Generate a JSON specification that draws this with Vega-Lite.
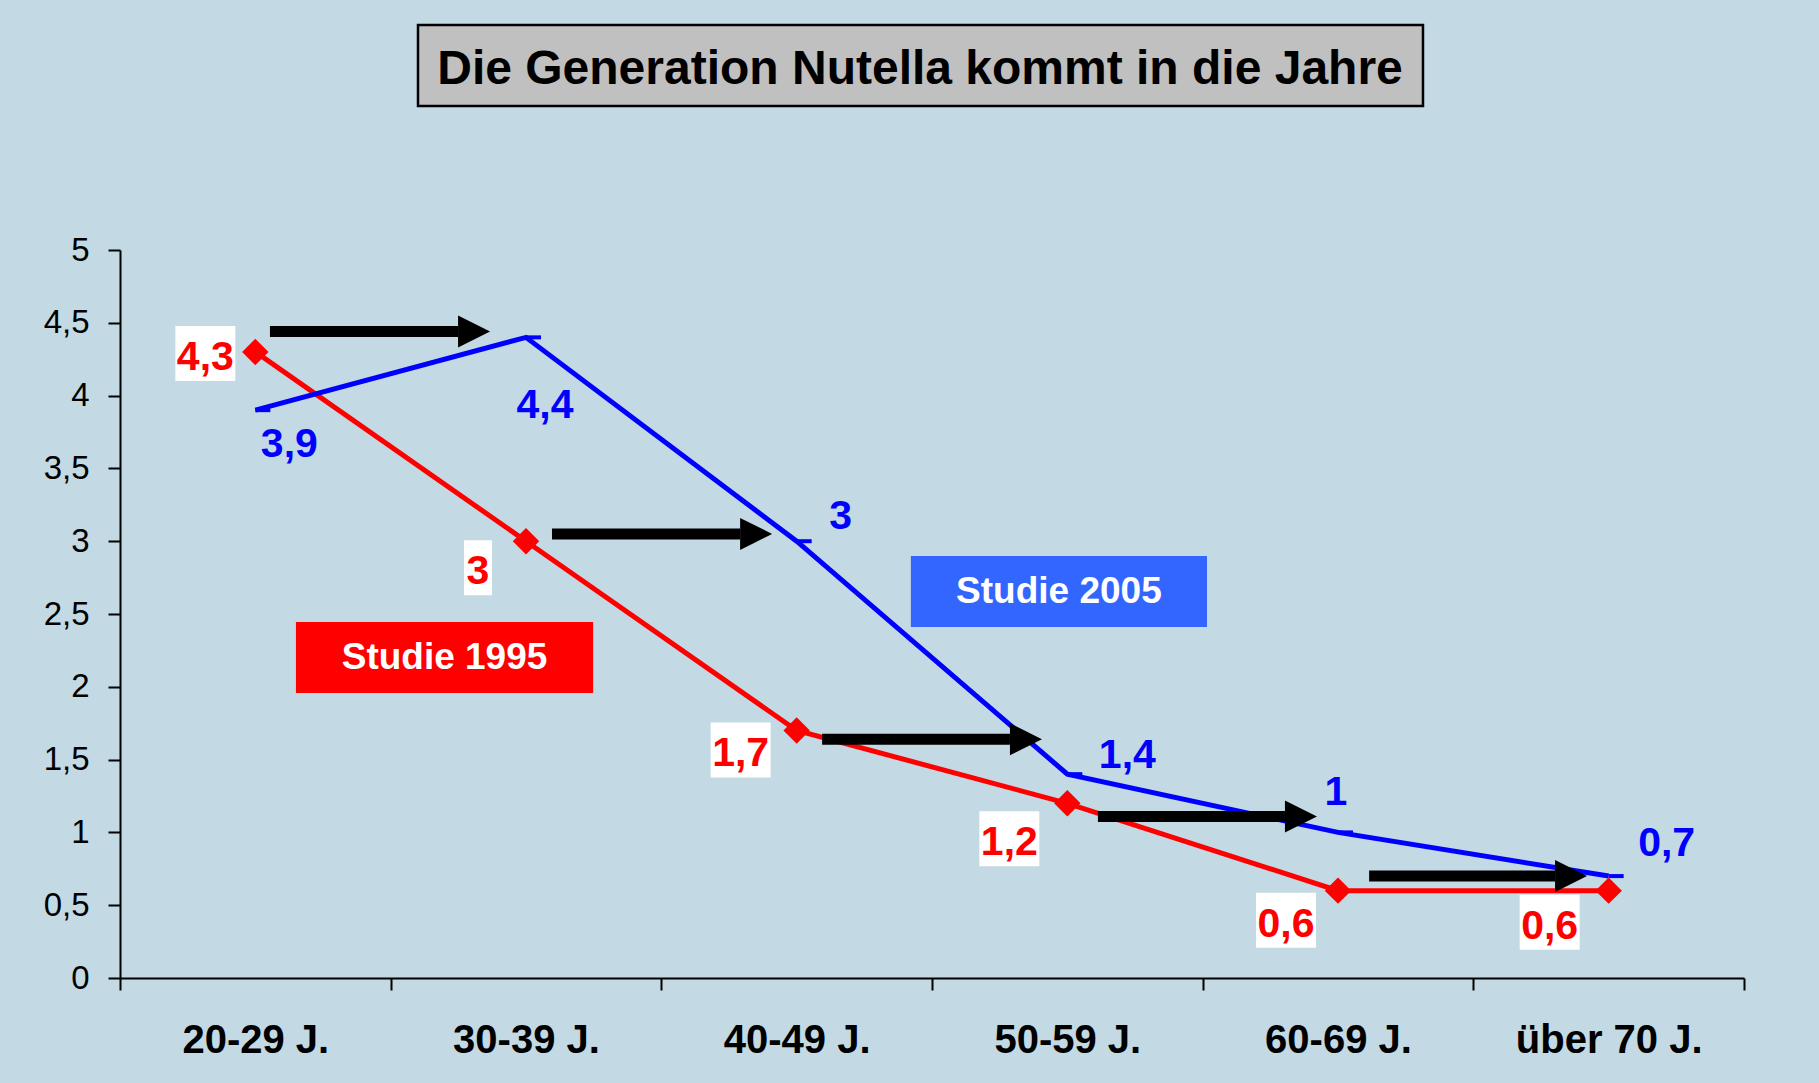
{
  "$schema": "https://vega.github.io/schema/vega-lite/v6.json",
  "width": 1624,
  "height": 728,
  "autosize": {"type": "none"},
  "padding": {"left": 120, "top": 250, "right": 75, "bottom": 105},
  "background": "#c3d9e4",
  "title": {
    "text": "Die Generation Nutella kommt in die Jahre",
    "font": "Liberation Sans",
    "fontSize": 48,
    "fontWeight": "bold",
    "color": "#000000",
    "anchor": "middle",
    "baseline": "alphabetic",
    "dx": -12,
    "offset": -108
  },
  "config": {
    "view": {"stroke": null},
    "font": "Liberation Sans",
    "locale": {"number": {"decimal": ",", "thousands": ".", "grouping": [3], "currency": ["", " €"]}}
  },
  "datasets": {
    "survey": [
      {"age": "20-29 J.", "study": "Studie 1995", "value": 4.3},
      {"age": "30-39 J.", "study": "Studie 1995", "value": 3},
      {"age": "40-49 J.", "study": "Studie 1995", "value": 1.7},
      {"age": "50-59 J.", "study": "Studie 1995", "value": 1.2},
      {"age": "60-69 J.", "study": "Studie 1995", "value": 0.6},
      {"age": "über 70 J.", "study": "Studie 1995", "value": 0.6},
      {"age": "20-29 J.", "study": "Studie 2005", "value": 3.9},
      {"age": "30-39 J.", "study": "Studie 2005", "value": 4.4},
      {"age": "40-49 J.", "study": "Studie 2005", "value": 3},
      {"age": "50-59 J.", "study": "Studie 2005", "value": 1.4},
      {"age": "60-69 J.", "study": "Studie 2005", "value": 1},
      {"age": "über 70 J.", "study": "Studie 2005", "value": 0.7}
    ],
    "arrows": [
      {"from": 0.554, "to": 1.249, "level": 4.44},
      {"from": 1.596, "to": 2.291, "level": 3.05},
      {"from": 2.594, "to": 3.288, "level": 1.64},
      {"from": 3.613, "to": 4.304, "level": 1.11},
      {"from": 4.615, "to": 5.302, "level": 0.70}
    ],
    "frames": [
      {"frame": "title", "left": 1.101, "right": 4.814, "bottom": 5.989, "top": 6.545},
      {"frame": "Studie 1995", "left": 0.650, "right": 1.748, "bottom": 1.957, "top": 2.445},
      {"frame": "Studie 2005", "left": 2.922, "right": 4.016, "bottom": 2.411, "top": 2.898}
    ]
  },
  "layer": [
    {
      "data": {"name": "survey"},
      "encoding": {
        "x": {
          "field": "age", "type": "nominal",
          "scale": {"type": "band", "domain": ["20-29 J.", "30-39 J.", "40-49 J.", "50-59 J.", "60-69 J.", "über 70 J."], "paddingInner": 0, "paddingOuter": 0},
          "axis": {"title": null, "tickBand": "extent", "labelAngle": 0, "labelFont": "Liberation Sans", "labelFontSize": 40, "labelFontWeight": "bold", "labelColor": "#000000", "labelPadding": 62, "labelBaseline": "alphabetic", "labelLimit": 400, "tickSize": 12, "tickWidth": 2, "tickColor": "#000000", "domainColor": "#000000", "domainWidth": 2, "grid": false}
        },
        "y": {
          "field": "value", "type": "quantitative",
          "scale": {"domain": [0, 5], "nice": false},
          "axis": {"title": null, "values": [0, 0.5, 1, 1.5, 2, 2.5, 3, 3.5, 4, 4.5, 5], "format": ".1~f", "grid": false, "labelFont": "Liberation Sans", "labelFontSize": 33, "labelColor": "#000000", "labelPadding": 19, "tickSize": 12, "tickWidth": 2, "tickColor": "#000000", "domainColor": "#000000", "domainWidth": 2}
        }
      },
      "layer": [
        {
          "mark": {"type": "line", "strokeWidth": 5},
          "encoding": {"color": {"field": "study", "type": "nominal", "scale": {"domain": ["Studie 1995", "Studie 2005"], "range": ["#ff0000", "#0000ff"]}, "legend": null}}
        },
        {
          "transform": [{"filter": "datum.study === 'Studie 1995'"}],
          "mark": {"type": "point", "shape": "diamond", "size": 700, "filled": true, "color": "#ff0000", "opacity": 1}
        },
        {
          "transform": [{"filter": "datum.study === 'Studie 2005'"}],
          "mark": {"type": "point", "shape": "M0,0L1,0", "size": 900, "filled": false, "stroke": "#0000ff", "strokeWidth": 4, "opacity": 1}
        },
        {"transform": [{"filter": "datum.study === 'Studie 1995' && datum.age === '20-29 J.'"}], "mark": {"type": "point", "shape": "M-80,-26H-20V29H-80Z", "size": 4, "filled": true, "fill": "#ffffff", "strokeWidth": 0, "opacity": 1}},
        {"transform": [{"filter": "datum.study === 'Studie 1995' && datum.age === '30-39 J.'"}], "mark": {"type": "point", "shape": "M-62,-1H-34V54H-62Z", "size": 4, "filled": true, "fill": "#ffffff", "strokeWidth": 0, "opacity": 1}},
        {"transform": [{"filter": "datum.study === 'Studie 1995' && datum.age === '40-49 J.'"}], "mark": {"type": "point", "shape": "M-86,-8H-26V47H-86Z", "size": 4, "filled": true, "fill": "#ffffff", "strokeWidth": 0, "opacity": 1}},
        {"transform": [{"filter": "datum.study === 'Studie 1995' && datum.age === '50-59 J.'"}], "mark": {"type": "point", "shape": "M-88,8H-28V63H-88Z", "size": 4, "filled": true, "fill": "#ffffff", "strokeWidth": 0, "opacity": 1}},
        {"transform": [{"filter": "datum.study === 'Studie 1995' && datum.age === '60-69 J.'"}], "mark": {"type": "point", "shape": "M-82,2H-22V57H-82Z", "size": 4, "filled": true, "fill": "#ffffff", "strokeWidth": 0, "opacity": 1}},
        {"transform": [{"filter": "datum.study === 'Studie 1995' && datum.age === 'über 70 J.'"}], "mark": {"type": "point", "shape": "M-89,4H-29V59H-89Z", "size": 4, "filled": true, "fill": "#ffffff", "strokeWidth": 0, "opacity": 1}},
        {"transform": [{"filter": "datum.study === 'Studie 1995' && datum.age === '20-29 J.'"}], "mark": {"type": "text", "dx": -50, "dy": 18, "fontSize": 41, "fontWeight": "bold", "color": "#ff0000", "baseline": "alphabetic", "align": "center"}, "encoding": {"text": {"field": "value", "type": "quantitative", "format": ".1~f"}}},
        {"transform": [{"filter": "datum.study === 'Studie 1995' && datum.age === '30-39 J.'"}], "mark": {"type": "text", "dx": -48, "dy": 43, "fontSize": 41, "fontWeight": "bold", "color": "#ff0000", "baseline": "alphabetic", "align": "center"}, "encoding": {"text": {"field": "value", "type": "quantitative", "format": ".1~f"}}},
        {"transform": [{"filter": "datum.study === 'Studie 1995' && datum.age === '40-49 J.'"}], "mark": {"type": "text", "dx": -56, "dy": 36, "fontSize": 41, "fontWeight": "bold", "color": "#ff0000", "baseline": "alphabetic", "align": "center"}, "encoding": {"text": {"field": "value", "type": "quantitative", "format": ".1~f"}}},
        {"transform": [{"filter": "datum.study === 'Studie 1995' && datum.age === '50-59 J.'"}], "mark": {"type": "text", "dx": -58, "dy": 52, "fontSize": 41, "fontWeight": "bold", "color": "#ff0000", "baseline": "alphabetic", "align": "center"}, "encoding": {"text": {"field": "value", "type": "quantitative", "format": ".1~f"}}},
        {"transform": [{"filter": "datum.study === 'Studie 1995' && datum.age === '60-69 J.'"}], "mark": {"type": "text", "dx": -52, "dy": 46, "fontSize": 41, "fontWeight": "bold", "color": "#ff0000", "baseline": "alphabetic", "align": "center"}, "encoding": {"text": {"field": "value", "type": "quantitative", "format": ".1~f"}}},
        {"transform": [{"filter": "datum.study === 'Studie 1995' && datum.age === 'über 70 J.'"}], "mark": {"type": "text", "dx": -59, "dy": 48, "fontSize": 41, "fontWeight": "bold", "color": "#ff0000", "baseline": "alphabetic", "align": "center"}, "encoding": {"text": {"field": "value", "type": "quantitative", "format": ".1~f"}}},
        {"transform": [{"filter": "datum.study === 'Studie 2005' && datum.age === '20-29 J.'"}], "mark": {"type": "text", "dx": 34, "dy": 47, "fontSize": 41, "fontWeight": "bold", "color": "#0000ff", "baseline": "alphabetic", "align": "center"}, "encoding": {"text": {"field": "value", "type": "quantitative", "format": ".1~f"}}},
        {"transform": [{"filter": "datum.study === 'Studie 2005' && datum.age === '30-39 J.'"}], "mark": {"type": "text", "dx": 19, "dy": 81, "fontSize": 41, "fontWeight": "bold", "color": "#0000ff", "baseline": "alphabetic", "align": "center"}, "encoding": {"text": {"field": "value", "type": "quantitative", "format": ".1~f"}}},
        {"transform": [{"filter": "datum.study === 'Studie 2005' && datum.age === '40-49 J.'"}], "mark": {"type": "text", "dx": 44, "dy": -12, "fontSize": 41, "fontWeight": "bold", "color": "#0000ff", "baseline": "alphabetic", "align": "center"}, "encoding": {"text": {"field": "value", "type": "quantitative", "format": ".1~f"}}},
        {"transform": [{"filter": "datum.study === 'Studie 2005' && datum.age === '50-59 J.'"}], "mark": {"type": "text", "dx": 60, "dy": -6, "fontSize": 41, "fontWeight": "bold", "color": "#0000ff", "baseline": "alphabetic", "align": "center"}, "encoding": {"text": {"field": "value", "type": "quantitative", "format": ".1~f"}}},
        {"transform": [{"filter": "datum.study === 'Studie 2005' && datum.age === '60-69 J.'"}], "mark": {"type": "text", "dx": -2, "dy": -27, "fontSize": 41, "fontWeight": "bold", "color": "#0000ff", "baseline": "alphabetic", "align": "center"}, "encoding": {"text": {"field": "value", "type": "quantitative", "format": ".1~f"}}},
        {"transform": [{"filter": "datum.study === 'Studie 2005' && datum.age === 'über 70 J.'"}], "mark": {"type": "text", "dx": 58, "dy": -20, "fontSize": 41, "fontWeight": "bold", "color": "#0000ff", "baseline": "alphabetic", "align": "center"}, "encoding": {"text": {"field": "value", "type": "quantitative", "format": ".1~f"}}}
      ]
    },
    {
      "layer": [
        {
          "data": {"name": "frames"},
          "transform": [{"filter": "datum.frame === 'title'"}],
          "mark": {"type": "rect", "fill": "#c0c0c0", "stroke": "#000000", "strokeWidth": 2.5},
          "encoding": {
            "x": {"field": "left", "type": "quantitative", "scale": {"domain": [0, 6], "nice": false, "zero": false}, "axis": null},
            "x2": {"field": "right"},
            "y": {"field": "bottom", "type": "quantitative", "scale": {"domain": [0, 5], "nice": false}, "axis": null},
            "y2": {"field": "top"}
          }
        },
        {
          "data": {"name": "frames"},
          "transform": [{"filter": "datum.frame === 'Studie 1995'"}],
          "mark": {"type": "rect", "fill": "#ff0000"},
          "encoding": {
            "x": {"field": "left", "type": "quantitative", "scale": {"domain": [0, 6], "nice": false, "zero": false}, "axis": null},
            "x2": {"field": "right"},
            "y": {"field": "bottom", "type": "quantitative", "scale": {"domain": [0, 5], "nice": false}, "axis": null},
            "y2": {"field": "top"}
          }
        },
        {
          "data": {"name": "frames"},
          "transform": [{"filter": "datum.frame === 'Studie 2005'"}],
          "mark": {"type": "rect", "fill": "#3366ff"},
          "encoding": {
            "x": {"field": "left", "type": "quantitative", "scale": {"domain": [0, 6], "nice": false, "zero": false}, "axis": null},
            "x2": {"field": "right"},
            "y": {"field": "bottom", "type": "quantitative", "scale": {"domain": [0, 5], "nice": false}, "axis": null},
            "y2": {"field": "top"}
          }
        },
        {
          "data": {"name": "frames"},
          "transform": [
            {"filter": "datum.frame !== 'title'"},
            {"calculate": "(datum.left + datum.right) / 2", "as": "cx"},
            {"calculate": "(datum.bottom + datum.top) / 2", "as": "cy"}
          ],
          "mark": {"type": "text", "fontSize": 37, "fontWeight": "bold", "color": "#ffffff", "baseline": "middle", "align": "center"},
          "encoding": {
            "x": {"field": "cx", "type": "quantitative", "scale": {"domain": [0, 6], "nice": false, "zero": false}, "axis": null},
            "y": {"field": "cy", "type": "quantitative", "scale": {"domain": [0, 5], "nice": false}, "axis": null},
            "text": {"field": "frame"}
          }
        },
        {
          "data": {"name": "arrows"},
          "mark": {"type": "rule", "strokeWidth": 11, "color": "#000000", "strokeCap": "butt"},
          "encoding": {
            "x": {"field": "from", "type": "quantitative", "scale": {"domain": [0, 6], "nice": false, "zero": false}, "axis": null},
            "x2": {"field": "to"},
            "y": {"field": "level", "type": "quantitative", "scale": {"domain": [0, 5], "nice": false}, "axis": null}
          }
        },
        {
          "data": {"name": "arrows"},
          "mark": {"type": "point", "shape": "M0,-1L2,0L0,1Z", "size": 1024, "filled": true, "color": "#000000", "opacity": 1},
          "encoding": {
            "x": {"field": "to", "type": "quantitative", "scale": {"domain": [0, 6], "nice": false, "zero": false}, "axis": null},
            "y": {"field": "level", "type": "quantitative", "scale": {"domain": [0, 5], "nice": false}, "axis": null}
          }
        }
      ]
    }
  ],
  "resolve": {"scale": {"x": "independent", "y": "independent"}}
}
